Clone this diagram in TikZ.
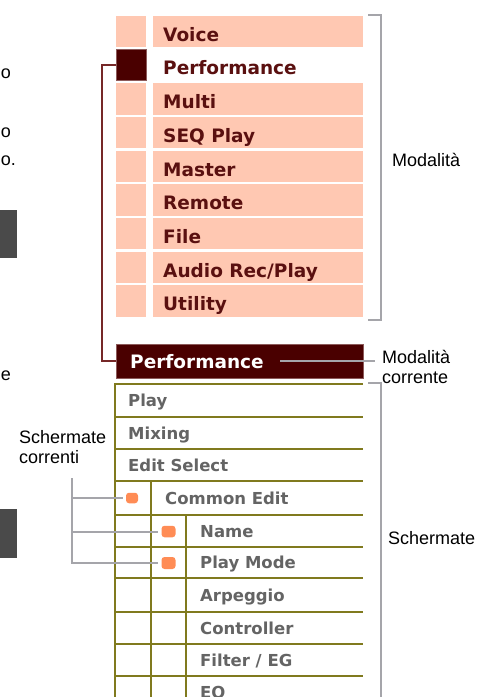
\documentclass[tikz,border=0pt]{standalone}
\usepackage{fontspec}
\setmainfont{Liberation Sans}
\newfontfamily\uifont{DejaVu Sans}

\definecolor{modefill}{RGB}{255,200,178}
\definecolor{maroon}{RGB}{74,0,0}
\definecolor{maroonedge}{RGB}{140,90,90}
\definecolor{maroontext}{RGB}{90,16,16}
\definecolor{maroonline}{RGB}{118,40,40}
\definecolor{olive}{RGB}{128,122,30}
\definecolor{guidegray}{RGB}{165,165,170}
\definecolor{screentext}{RGB}{100,100,100}
\definecolor{marker}{RGB}{255,140,85}
\definecolor{darkpanel}{RGB}{74,74,74}

\begin{document}
\begin{tikzpicture}[x=1pt,y=-1pt,
  modecell/.style={fill=modefill, draw=none, inner sep=0pt, anchor=north west, minimum height=31.5pt},
  modesq/.style={modecell, minimum width=30pt},
  modebar/.style={modecell, minimum width=210pt},
  modelabel/.style={font=\uifont\bfseries\fontsize{18.5}{20}\selectfont, text=maroontext, anchor=base west, inner sep=0pt},
  activebox/.style={fill=maroon, draw=maroonedge, line width=0.8pt, inner sep=0pt, anchor=north west},
  screenlabel/.style={font=\uifont\bfseries\fontsize{16.5}{18}\selectfont, text=screentext, anchor=base west, inner sep=0pt},
  gridline/.style={draw=olive, line width=1.8pt},
  guide/.style={draw=guidegray, line width=2pt},
  maroonlink/.style={draw=maroonline, line width=2pt},
  caption/.style={font=\fontsize{18}{20}\selectfont, text=black, anchor=base west, inner sep=0pt},
  cursor/.style={fill=marker, draw=none, rounded corners=3pt, inner sep=0pt},
]
\fill[white] (0,0) rectangle (486,697);
\useasboundingbox (0,0) rectangle (486,697);

% text and panels cut at the left margin
\node[caption, anchor=base east] (fragA) at (11,78) {o};
\node[caption, anchor=base east] (fragB) at (11,137) {o};
\node[caption, anchor=base east] (fragC) at (16,165) {o.};
\node[caption, anchor=base east] (fragD) at (11,380) {e};
\fill[darkpanel] (0,210) rectangle (17,258);
\fill[darkpanel] (0,509) rectangle (17,558);

% mode list
\foreach \i/\name in {0/Voice, 2/Multi, 3/SEQ Play, 4/Master, 5/Remote, 6/File, 7/{Audio Rec/Play}, 8/Utility} {
  \pgfmathsetmacro{\top}{15.5+33.7*\i}
  \node[modesq] (sq\i) at (116,\top) {};
  \node[modebar] (bar\i) at (153,\top) {};
  \node[modelabel] (txt\i) at (163,\top+25.7) {\name};
}
\node[activebox, minimum width=30pt, minimum height=31pt] (sq1) at (116,49.2) {};
\node[modelabel] (txt1) at (163,74.9) {Performance};

% bracket: Modalità
\draw[guide] (368,15) -- (381,15) -- (381,320) -- (368,320);
\node[caption] (modlbl) at (392,166) {Modalità};

% current mode header
\node[activebox, minimum width=247pt, minimum height=34pt] (hdr) at (116,344) {};
\node[modelabel, text=white] (hdrtxt) at (130,368) {Performance};
\draw[maroonlink] (sq1.west) -- ++(-14,0) |- (hdr.west);

\node[caption] (curlbl) at (382,363.5) {Modalità};
\node[caption] (curlbl2) at (382,383) {corrente};
\coordinate (curtail) at (280,361);
\draw[guide, shorten >=7pt] (curtail) -- (curtail -| curlbl.west);

% screen table grid
\foreach \y in {384,417,449,481,515,547,578,612,644,676}
  \draw[gridline] (115,\y) -- (363,\y);
\draw[gridline] (115,383.1) -- (115,700);
\draw[gridline] (151,481) -- (151,700);
\draw[gridline] (186,515) -- (186,700);

% screen names
\node[screenlabel] (scPlay) at (128,406.5) {Play};
\node[screenlabel] (scMix) at (128,439) {Mixing};
\node[screenlabel] (scEdit) at (128,471) {Edit Select};
\node[screenlabel] (scCommon) at (165,504) {Common Edit};
\node[screenlabel] (scName) at (200,537) {Name};
\node[screenlabel] (scPMode) at (200,568.5) {Play Mode};
\node[screenlabel] (scArp) at (200,601) {Arpeggio};
\node[screenlabel] (scCtrl) at (200,634) {Controller};
\node[screenlabel] (scFilt) at (200,666) {Filter / EG};
\node[screenlabel] (scEQ) at (200,698) {EQ};

% cursor markers
\node[cursor, minimum width=12pt, minimum height=10.5pt] (mk1) at (132,498) {};
\node[cursor, minimum width=14pt, minimum height=11.5pt] (mk2) at (168.5,531.5) {};
\node[cursor, minimum width=14pt, minimum height=12pt] (mk3) at (168.5,563) {};

% bracket: Schermate
\draw[guide] (368,383) -- (381,383) -- (381,700);
\node[caption] (scrlbl) at (388,544) {Schermate};

% current screens callout
\node[caption] (curscr) at (19,443) {Schermate};
\node[caption] (curscr2) at (19,463) {correnti};
\coordinate (trunk) at (72,478);
\draw[guide, shorten >=3pt] (trunk) -- (trunk |- mk3.west) -- (mk3.west);
\draw[guide, shorten >=3pt] (trunk |- mk1.west) -- (mk1.west);
\draw[guide, shorten >=3pt] (trunk |- mk2.west) -- (mk2.west);
\end{tikzpicture}
\end{document}
